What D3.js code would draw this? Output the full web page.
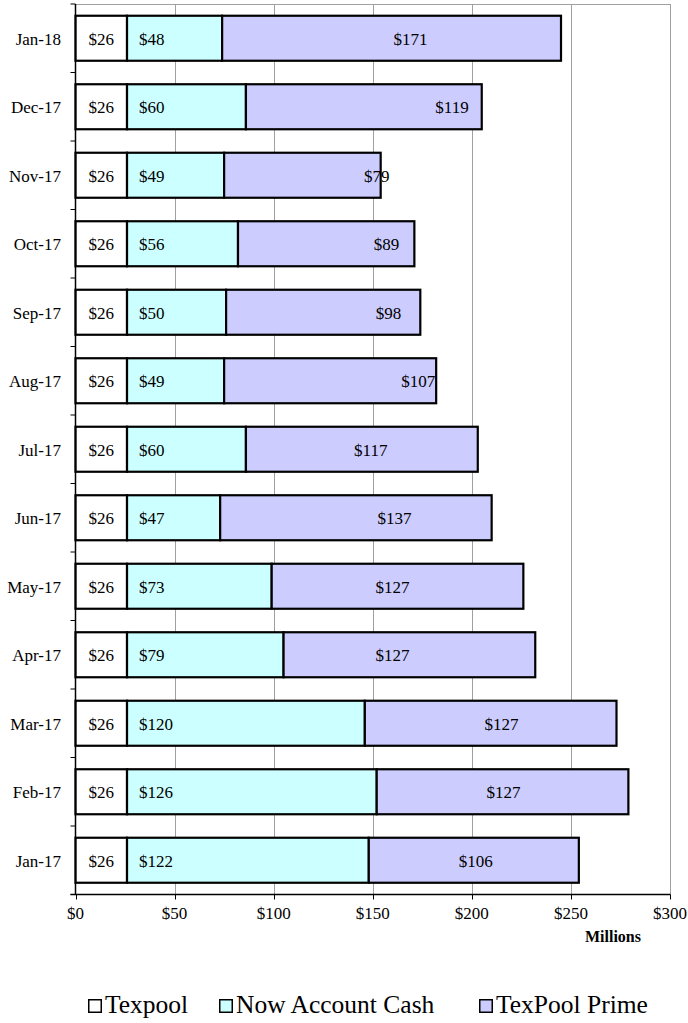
<!DOCTYPE html>
<html>
<head>
<meta charset="utf-8">
<script src="https://cdn.jsdelivr.net/npm/d3@7"></script>
<style>
  body { margin: 0; background: #fff; }
  svg { display: block; font-family: "Liberation Serif", "Times New Roman", serif; }
</style>
</head>
<body>
<script>
// monthly balances, millions of dollars
var months = ["Jan-17", "Feb-17", "Mar-17", "Apr-17", "May-17", "Jun-17", "Jul-17",
              "Aug-17", "Sep-17", "Oct-17", "Nov-17", "Dec-17", "Jan-18"];
var texpool = [26, 26, 26, 26, 26, 26, 26, 26, 26, 26, 26, 26, 26];
var nowCash = [122, 126, 120, 79, 73, 47, 60, 49, 50, 56, 49, 60, 48];
var prime   = [106, 127, 127, 127, 127, 137, 117, 107, 98, 89, 79, 119, 171];
// where the TexPool Prime labels sit (millions), as in the source chart
var primeLabelAt = [202, 216, 215, 160, 160, 161, 149, 173, 158, 157, 152, 190, 169];

var seriesNames = ["Texpool", "Now Account Cash", "TexPool Prime"];
var seriesColors = ["#ffffff", "#ccffff", "#ccccff"];
var xTicks = [0, 50, 100, 150, 200, 250, 300];

var width = 688, height = 1023;
var plotLeft = 75.5, plotRight = 670, plotTop = 4, plotBottom = 894.5;
var legendX = [88, 219, 479];

var svg = d3.select("body").append("svg")
  .attr("width", width)
  .attr("height", height);

var x = d3.scaleLinear().domain([0, 300]).range([plotLeft, plotRight]);
var y = d3.scaleBand()
  .domain(months.slice().reverse())
  .range([plotTop, plotBottom])
  .paddingInner(0.343)
  .paddingOuter(0.1715);

var step = y.step();

// grid lines
svg.selectAll(".grid")
  .data(xTicks.slice(1))
  .enter().append("line")
  .attr("x1", function(d) { return Math.round(x(d)) + 0.5; })
  .attr("x2", function(d) { return Math.round(x(d)) + 0.5; })
  .attr("y1", plotTop)
  .attr("y2", plotBottom)
  .attr("stroke", "#a0a0a0")
  .attr("stroke-width", 1);

// top frame
svg.append("line")
  .attr("x1", plotLeft).attr("x2", plotRight + 0.5)
  .attr("y1", plotTop + 0.5).attr("y2", plotTop + 0.5)
  .attr("stroke", "#a0a0a0").attr("stroke-width", 1);

// stack the series
var rows = months.map(function(m, i) {
  return { month: m, vals: [texpool[i], nowCash[i], prime[i]], labelAt: primeLabelAt[i] };
});

var segs = [];
rows.forEach(function(r) {
  var acc = 0;
  r.vals.forEach(function(v, k) {
    segs.push({ month: r.month, k: k, x0: acc, x1: acc + v, v: v, labelAt: r.labelAt });
    acc += v;
  });
});

svg.selectAll(".seg")
  .data(segs)
  .enter().append("rect")
  .attr("x", function(d) { return x(d.x0); })
  .attr("y", function(d) { return y(d.month); })
  .attr("width", function(d) { return x(d.x1) - x(d.x0); })
  .attr("height", y.bandwidth())
  .attr("fill", function(d) { return seriesColors[d.k]; })
  .attr("stroke", "#000")
  .attr("stroke-width", 2.2);

// value labels
svg.selectAll(".val")
  .data(segs)
  .enter().append("text")
  .text(function(d) { return "$" + d.v; })
  .attr("x", function(d) {
    if (d.k == 0) return (x(d.x0) + x(d.x1)) / 2;
    if (d.k == 1) return x(d.x0) + 12;
    return x(d.labelAt);
  })
  .attr("y", function(d) { return y(d.month) + y.bandwidth() / 2; })
  .attr("dy", "0.37em")
  .attr("text-anchor", function(d) { return d.k == 1 ? "start" : "middle"; })
  .attr("font-size", "17px")
  .attr("fill", "#000");

// left axis
svg.append("line")
  .attr("x1", plotLeft).attr("x2", plotLeft)
  .attr("y1", plotTop).attr("y2", plotBottom)
  .attr("stroke", "#000").attr("stroke-width", 1.5);

var bounds = d3.range(months.length + 1).map(function(i) { return plotTop + i * step; });
svg.selectAll(".ytick")
  .data(bounds)
  .enter().append("line")
  .attr("x1", plotLeft - 5).attr("x2", plotLeft)
  .attr("y1", function(d) { return d; })
  .attr("y2", function(d) { return d; })
  .attr("stroke", "#000").attr("stroke-width", 1);

svg.selectAll(".ylab")
  .data(months)
  .enter().append("text")
  .text(function(d) { return d; })
  .attr("x", 61)
  .attr("y", function(d) { return y(d) + y.bandwidth() / 2; })
  .attr("dy", "0.37em")
  .attr("text-anchor", "end")
  .attr("font-size", "17px");

// bottom axis
svg.append("line")
  .attr("x1", plotLeft - 5).attr("x2", plotRight + 0.5)
  .attr("y1", plotBottom).attr("y2", plotBottom)
  .attr("stroke", "#000").attr("stroke-width", 1.5);

svg.selectAll(".xtick")
  .data(xTicks)
  .enter().append("line")
  .attr("x1", function(d) { return Math.round(x(d)) + 0.5; })
  .attr("x2", function(d) { return Math.round(x(d)) + 0.5; })
  .attr("y1", plotBottom)
  .attr("y2", plotBottom + 5)
  .attr("stroke", "#000").attr("stroke-width", 1);

svg.selectAll(".xlab")
  .data(xTicks)
  .enter().append("text")
  .text(function(d) { return "$" + d; })
  .attr("x", function(d) { return x(d); })
  .attr("y", 919)
  .attr("text-anchor", "middle")
  .attr("font-size", "17px");

svg.append("text")
  .text("Millions")
  .attr("x", 613)
  .attr("y", 942)
  .attr("text-anchor", "middle")
  .attr("font-size", "16px")
  .attr("font-weight", "bold");

// legend
var legend = svg.append("g");
seriesNames.forEach(function(name, k) {
  var lx = legendX[k];
  legend.append("rect")
    .attr("x", lx + 0.75).attr("y", 999.75)
    .attr("width", 12.5).attr("height", 12.5)
    .attr("fill", seriesColors[k])
    .attr("stroke", "#000").attr("stroke-width", 1.5);
  legend.append("text")
    .text(name)
    .attr("x", lx + 17)
    .attr("y", 1013)
    .attr("font-size", "25.5px");
});
</script>
</body>
</html>
